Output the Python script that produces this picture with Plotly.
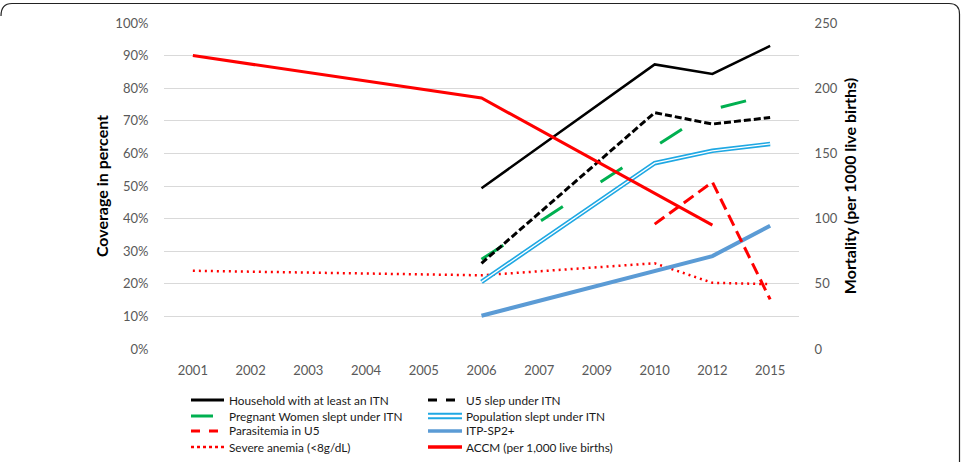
import plotly.graph_objects as go

# ---------------- data ----------------
years = ['2001', '2002', '2003', '2004', '2005', '2006', '2007', '2009', '2010', '2012', '2015']
household_itn = [None, None, None, None, None, 49.3, None, None, 87.3, 84.4, 93.0]
u5_itn = [None, None, None, None, None, 26.3, None, None, 72.5, 69.0, 71.0]
pregnant_itn = [None, None, None, None, None, 27.5, None, None, None, 73.5, 78.0]
population_itn = [None, None, None, None, None, 20.6, None, None, 57.0, 60.8, 62.9]
parasitemia_u5 = [None, None, None, None, None, None, None, None, 38.3, 51.2, 15.2]
itp_sp2 = [None, None, None, None, None, 10.2, None, None, None, 28.5, 37.8]
severe_anemia = [24.0, None, None, None, None, 22.6, None, None, 26.3, 20.3, 19.9]
accm = [225, None, None, None, None, 192.5, None, None, None, 95, None]

left_ticks = [0, 10, 20, 30, 40, 50, 60, 70, 80, 90, 100]
left_ticktext = [f"{v}%" for v in left_ticks]
right_ticks = [0, 50, 100, 150, 200, 250]

labels = ["Household with at least an ITN", "U5 slep under ITN",
          "Pregnant Women slept under ITN", "Population slept under ITN",
          "Parasitemia in U5", "ITP-SP2+",
          "Severe anemia (<8g/dL)", "ACCM (per 1,000 live births)"]

FONT = "Lato"
W, H = 961, 462
L, R, T, B = 164, 799, 23, 349  # plot area in pixels

def px(x):
    return (x - L) / (R - L)

def py(y):
    return (B - y) / (B - T)

fig = go.Figure()

def add(y, color, width, dash="solid", axis="y"):
    fig.add_trace(go.Scatter(x=years, y=y, mode="lines", connectgaps=True,
                             line=dict(color=color, width=width, dash=dash),
                             yaxis=axis, showlegend=False, hoverinfo="skip"))

add(severe_anemia, "#FF0000", 2.5, "2px,4px")
add(itp_sp2, "#5B9BD5", 4)
add(population_itn, "#1FA8E3", 4.5)
add(population_itn, "#FFFFFF", 1.3)
add(pregnant_itn, "#00B050", 3, "26px,45px")
add(u5_itn, "#000000", 3, "7px,3px")
add(household_itn, "#000000", 2.5)
add(parasitemia_u5, "#FF0000", 3, "12px,6px")
add(accm, "#FF0000", 3, axis="y2")

# ---------------- manual legend ----------------
shapes = []
annotations = []
col_x = [(191, 224, 227), (428, 462, 464)]
row_y = [400, 416, 431, 447]
samples = [
    ("#000000", 3, "solid", 224),
    ("#000000", 3, "dash", 462),
    ("#00B050", 3, "solid", 213),
    (None, None, None, 462),
    ("#FF0000", 3, "dash", 224),
    ("#5B9BD5", 3.5, "solid", 462),
    ("#FF0000", 2.5, "dot", 224),
    ("#FF0000", 3.5, "solid", 462),
]
for i, lab in enumerate(labels):
    c = i % 2
    r = i // 2
    x0, x1, xt = col_x[c]
    yy = row_y[r]
    color, width, dash, xe = samples[i]
    if color is None:
        for dy in (-2.2, 2.2):
            shapes.append(dict(type="line", xref="paper", yref="paper",
                               x0=px(x0), x1=px(xe), y0=py(yy + dy), y1=py(yy + dy),
                               line=dict(color="#1FA8E3", width=2)))
    else:
        shapes.append(dict(type="line", xref="paper", yref="paper",
                           x0=px(x0), x1=px(xe), y0=py(yy), y1=py(yy),
                           line=dict(color=color, width=width, dash=dash)))
    annotations.append(dict(text=lab, xref="paper", yref="paper", x=px(xt), y=py(yy),
                            xanchor="left", yanchor="middle", showarrow=False,
                            font=dict(family=FONT, size=11.8, color="#1a1a1a")))

# frame border (top edge with rounded corners, right edge)
path = (f"M {px(1)},{py(16)} Q {px(1)},{py(3.5)} {px(12)},{py(3.5)} "
        f"L {px(949)},{py(3.5)} Q {px(959.5)},{py(3.5)} {px(959.5)},{py(14)} "
        f"L {px(959.5)},{py(470)}")
shapes.append(dict(type="path", xref="paper", yref="paper", path=path,
                   line=dict(color="#222222", width=1.2)))

fig.update_layout(
    width=W, height=H,
    margin=dict(l=L, r=W - R, t=T, b=H - B, pad=0),
    paper_bgcolor="white", plot_bgcolor="white",
    font=dict(family=FONT, size=13, color="#595959"),
    shapes=shapes, annotations=annotations,
    xaxis=dict(type="category", categoryorder="array", categoryarray=years,
               showgrid=False, zeroline=False, showline=False,
               ticks="outside", ticklen=9, tickcolor="rgba(0,0,0,0)",
               tickfont=dict(family=FONT, size=13, color="#595959"),
               range=[-0.5, len(years) - 0.5]),
    yaxis=dict(range=[0, 100], tickvals=left_ticks, ticktext=left_ticktext,
               showgrid=True, gridcolor="#D9D9D9", gridwidth=1, zeroline=False,
               showline=False, ticks="outside", ticklen=12, tickcolor="rgba(0,0,0,0)",
               tickfont=dict(family=FONT, size=13, color="#595959"),
               title=dict(text="<b>Coverage in percent</b>", standoff=2,
                          font=dict(family=FONT, size=16, color="#000000"))),
    yaxis2=dict(range=[0, 250], tickvals=right_ticks, overlaying="y", side="right",
                showgrid=False, zeroline=False, showline=False,
                ticks="outside", ticklen=12, tickcolor="rgba(0,0,0,0)",
                tickfont=dict(family=FONT, size=13, color="#595959"),
                title=dict(text="<b>Mortality (per 1000 live births)</b>", standoff=8,
                           font=dict(family=FONT, size=16, color="#000000"))),
    showlegend=False,
)

fig.write_html("out.html")
